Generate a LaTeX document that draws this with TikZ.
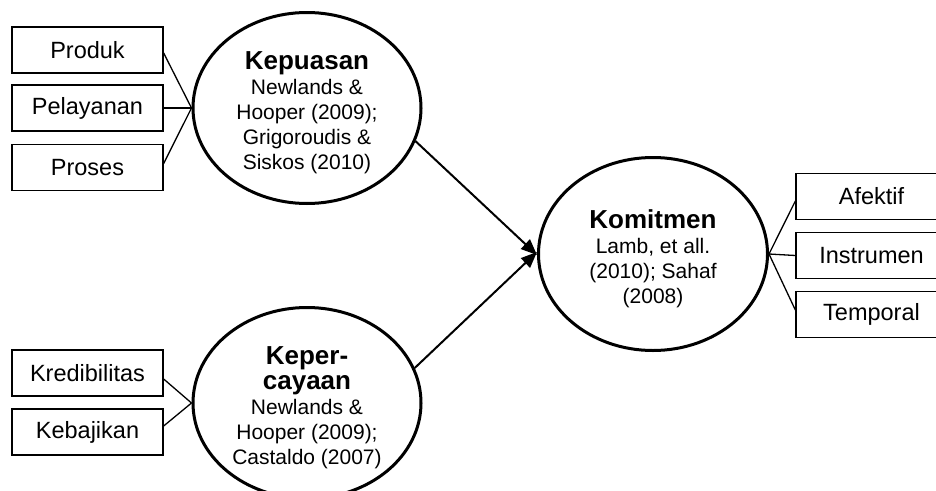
\documentclass[tikz,border=0pt]{standalone}
\usepackage{fontspec}
\setmainfont{Liberation Sans}
\usetikzlibrary{shapes.geometric,arrows.meta}
\newcommand{\ctitle}[1]{{\bfseries\fontsize{26}{29}\selectfont #1}}
\begin{document}
\begin{tikzpicture}[x=1pt,y=-1pt,
  itembox/.style={draw,line width=1.3pt,minimum width=151pt,minimum height=46pt,
    inner sep=0pt,font=\fontsize{23.5}{26}\selectfont},
  construct/.style={draw,ellipse,line width=3pt,inner sep=0pt,minimum width=228pt,
    minimum height=191pt},
  ctext/.style={align=center,inner sep=0pt,font=\fontsize{21}{25}\selectfont},
  link/.style={line width=1.3pt},
  flow/.style={line width=2pt,-{Triangle[length=16pt,width=13pt]}}]
\useasboundingbox (0,0) rectangle (936,490);
\clip (0,0) rectangle (936,490);

% constructs
\node[construct] (kep) at (307,108) {};
\node[construct] (kpc) at (307,403) {};
\node[construct,minimum width=229pt,minimum height=193pt] (kom) at (653,254) {};

\node[ctext] (kep-text) at ([yshift=-5pt]kep.center)
  {\ctitle{Kepuasan}\\Newlands \&\\Hooper (2009);\\Grigoroudis \&\\Siskos (2010)};
\node[ctext] (kpc-text) at ([yshift=-5pt]kpc.center)
  {\ctitle{Keper-}\\\ctitle{cayaan}\\Newlands \&\\Hooper (2009);\\Castaldo (2007)};
\node[ctext] (kom-text) at ([yshift=-5pt]kom.center)
  {\ctitle{Komitmen}\\Lamb, et all.\\(2010); Sahaf\\(2008)};

% indicators
\node[itembox] (produk) at (87.5,50) {Produk};
\node[itembox] (pelayanan) at (87.5,108) {Pelayanan};
\node[itembox] (proses) at (87.5,167.5) {Proses};
\node[itembox] (kred) at (87.5,373) {Kredibilitas};
\node[itembox] (kebaj) at (87.5,432) {Kebajikan};
\node[itembox] (afektif) at (871.5,196.5) {Afektif};
\node[itembox] (instrumen) at (871.5,255.5) {Instrumen};
\node[itembox] (temporal) at (871.5,314.5) {Temporal};

% indicator links
\draw[link] ([yshift=-3pt]produk.east) -- (kep.west);
\draw[link] (pelayanan.east) -- (kep.west);
\draw[link] ([yshift=4pt]proses.east) -- (kep.west);
\draw[link] ([yshift=-6pt]kred.east) -- (kpc.west);
\draw[link] ([yshift=6pt]kebaj.east) -- (kpc.west);
\draw[link] (kom.east) -- ([yshift=-4.5pt]afektif.west);
\draw[link] (kom.east) -- (instrumen.west);
\draw[link] (kom.east) -- ([yshift=4.5pt]temporal.west);

% paths between constructs
\draw[flow] (kep.-17.5) -- ([yshift=-1pt]kom.west);
\draw[flow] (kpc.18) -- ([yshift=2pt]kom.west);
\end{tikzpicture}
\end{document}
